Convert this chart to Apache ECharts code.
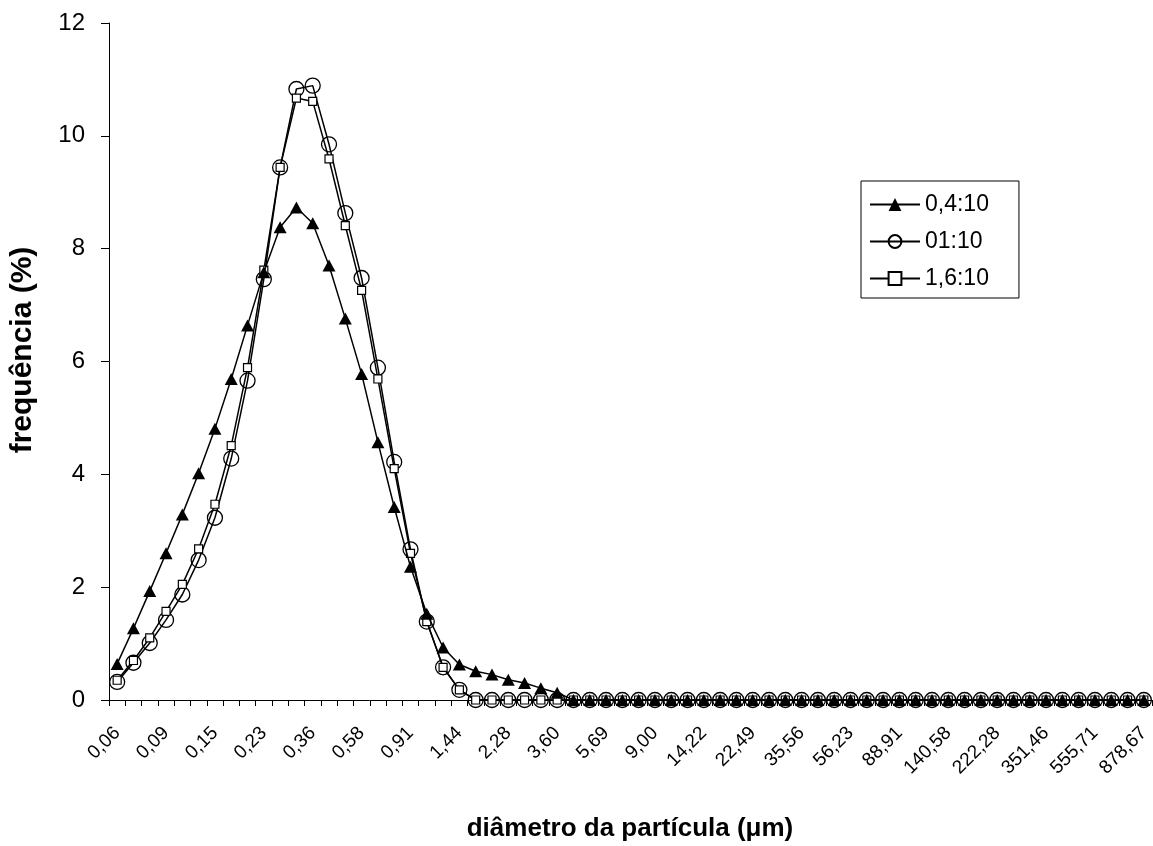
<!DOCTYPE html>
<html>
<head>
<meta charset="utf-8">
<script src="https://cdn.jsdelivr.net/npm/echarts@6/dist/echarts.min.js"></script>
<style>
  html, body { margin: 0; padding: 0; background: #fff; }
  #chart { width: 1153px; height: 846px; }
</style>
</head>
<body>
<div id="chart"></div>
<script>
// Particle diameter classes (µm), log-spaced
const diameters = [
  '0,06', '0,07', '0,08', '0,09', '0,10', '0,13', '0,15', '0,17', '0,20',
  '0,23', '0,27', '0,31', '0,36', '0,42', '0,49', '0,58', '0,67', '0,78',
  '0,91', '1,06', '1,24', '1,44', '1,68', '1,96', '2,28', '2,66', '3,09',
  '3,60', '4,19', '4,88', '5,69', '6,63', '7,72', '9,00', '10,48', '12,21',
  '14,22', '16,57', '19,30', '22,49', '26,20', '30,52', '35,56', '41,43', '48,26',
  '56,23', '65,51', '76,32', '88,91', '103,58', '120,67', '140,58', '163,78', '190,80',
  '222,28', '258,96', '301,68', '351,46', '409,45', '477,01', '555,71', '647,40', '754,22',
  '878,67'
];

// Frequency (%) per class for each mixture ratio
const ratio04 = [
  0.64, 1.27, 1.93, 2.60, 3.29, 4.02, 4.81, 5.69, 6.64,
  7.58, 8.38, 8.73, 8.45, 7.70, 6.76, 5.78, 4.57, 3.42,
  2.36, 1.53, 0.93, 0.63, 0.51, 0.45, 0.36, 0.30, 0.21,
  0.13, 0, 0, 0, 0, 0, 0, 0, 0,
  0, 0, 0, 0, 0, 0, 0, 0, 0,
  0, 0, 0, 0, 0, 0, 0, 0, 0,
  0, 0, 0, 0, 0, 0, 0, 0, 0,
  0
];
const ratio01 = [
  0.32, 0.66, 1.01, 1.42, 1.87, 2.48, 3.23, 4.28, 5.66,
  7.46, 9.44, 10.83, 10.89, 9.85, 8.63, 7.48, 5.89, 4.22,
  2.67, 1.39, 0.58, 0.18, 0, 0, 0, 0, 0,
  0, 0, 0, 0, 0, 0, 0, 0, 0,
  0, 0, 0, 0, 0, 0, 0, 0, 0,
  0, 0, 0, 0, 0, 0, 0, 0, 0,
  0, 0, 0, 0, 0, 0, 0, 0, 0,
  0
];
const ratio16 = [
  0.35, 0.70, 1.10, 1.57, 2.05, 2.68, 3.47, 4.51, 5.89,
  7.62, 9.44, 10.67, 10.61, 9.59, 8.41, 7.26, 5.69, 4.10,
  2.60, 1.39, 0.58, 0.18, 0, 0, 0, 0, 0,
  0, 0, 0, 0, 0, 0, 0, 0, 0,
  0, 0, 0, 0, 0, 0, 0, 0, 0,
  0, 0, 0, 0, 0, 0, 0, 0, 0,
  0, 0, 0, 0, 0, 0, 0, 0, 0,
  0
];

const seriesNames = ['0,4:10', '01:10', '1,6:10'];
const FONT = '"Liberation Sans", Arial, sans-serif';

const chart = echarts.init(document.getElementById('chart'), null, { renderer: 'canvas' });

const lineBase = {
  type: 'line',
  showSymbol: true,
  showAllSymbol: true,
  animation: false,
  lineStyle: { color: '#000', width: 1.5 },
  emphasis: { disabled: true }
};

chart.setOption({
  backgroundColor: '#fff',
  animation: false,
  grid: { left: 109, right: 1, top: 23, bottom: 146, containLabel: false },
  legend: {
    orient: 'vertical',
    left: 861,
    top: 181,
    padding: [12, 30, 8, 8],
    itemGap: 14,
    itemWidth: 50,
    itemHeight: 16,
    borderColor: '#000',
    borderWidth: 1,
    textStyle: { fontFamily: FONT, fontSize: 23, color: '#000' },
    data: seriesNames
  },
  xAxis: {
    type: 'category',
    data: diameters,
    boundaryGap: true,
    axisLine: { lineStyle: { color: '#000', width: 1 } },
    axisTick: { show: true, interval: 0, length: 6, lineStyle: { color: '#000' } },
    axisLabel: {
      interval: 2,
      rotate: 45,
      margin: 30,
      color: '#000',
      fontFamily: FONT,
      fontSize: 19
    },
    splitLine: { show: false }
  },
  yAxis: {
    type: 'value',
    min: 0,
    max: 12,
    interval: 2,
    axisLine: { show: true, lineStyle: { color: '#000', width: 1 } },
    axisTick: { show: true, length: 8, lineStyle: { color: '#000' } },
    axisLabel: { margin: 24, color: '#000', fontFamily: FONT, fontSize: 24 },
    splitLine: { show: false }
  },
  graphic: [
    {
      type: 'text',
      x: 630,
      y: 816,
      style: {
        text: 'diâmetro da partícula (μm)',
        fontFamily: FONT,
        fontWeight: 'bold',
        fontSize: 26,
        fill: '#000',
        align: 'center',
        verticalAlign: 'top'
      }
    },
    {
      type: 'text',
      x: 8,
      y: 350,
      rotation: Math.PI / 2,
      style: {
        text: 'frequência (%)',
        fontFamily: FONT,
        fontWeight: 'bold',
        fontSize: 30,
        fill: '#000',
        align: 'center',
        verticalAlign: 'top'
      }
    }
  ],
  series: [
    Object.assign({}, lineBase, {
      name: seriesNames[1],
      data: ratio01,
      symbol: 'circle',
      symbolSize: 15,
      z: 2,
      itemStyle: { color: 'rgba(255,255,255,0)', borderColor: '#000', borderWidth: 1.3 }
    }),
    Object.assign({}, lineBase, {
      name: seriesNames[2],
      data: ratio16,
      symbol: 'rect',
      symbolSize: 8,
      z: 3,
      itemStyle: { color: '#fff', borderColor: '#000', borderWidth: 1.2 }
    }),
    Object.assign({}, lineBase, {
      name: seriesNames[0],
      data: ratio04,
      symbol: 'triangle',
      symbolSize: [13, 12],
      z: 4,
      itemStyle: { color: '#000', borderColor: '#000', borderWidth: 0 }
    })
  ]
});
</script>
</body>
</html>
